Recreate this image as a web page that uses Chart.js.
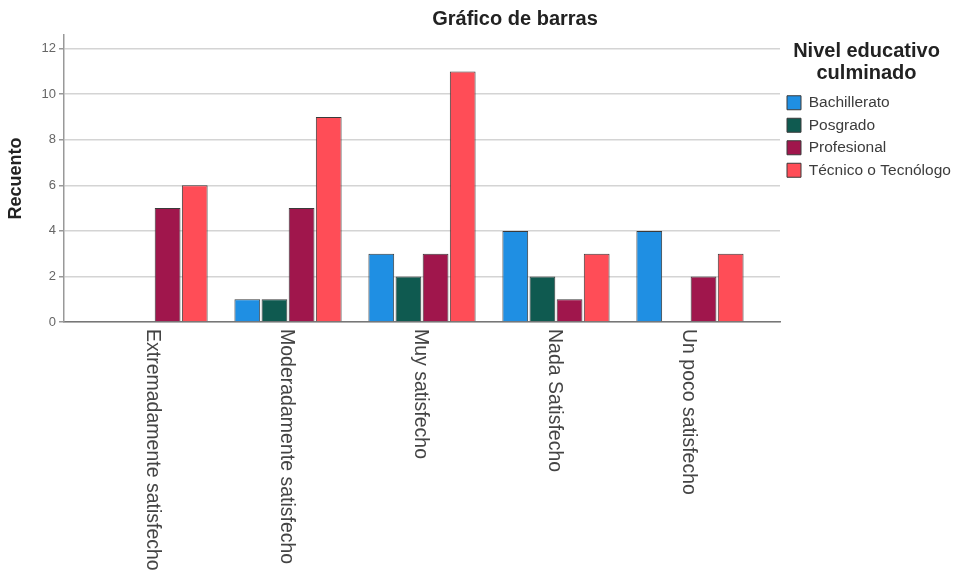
<!DOCTYPE html>
<html lang="es">
<head>
<meta charset="utf-8">
<title>Gráfico de barras</title>
<script src="https://cdn.jsdelivr.net/npm/chart.js@4/dist/chart.umd.min.js"></script>
<style>
    html, body { margin: 0; padding: 0; background: #fff; }
    #wrap { width: 953px; height: 571px; }
</style>
</head>
<body>
<div id="wrap"><canvas id="barChart"></canvas></div>
<script>
// Satisfaction counts by education level
const categories = [
    'Extremadamente satisfecho',
    'Moderadamente satisfecho',
    'Muy satisfecho',
    'Nada Satisfecho',
    'Un poco satisfecho'
];
const bachillerato = [0, 1, 3, 4, 4];
const posgrado     = [0, 1, 2, 2, 0];
const profesional  = [5, 5, 3, 1, 2];
const tecnico      = [6, 9, 11, 3, 3];
const yTicks = [0, 2, 4, 6, 8, 10, 12];

const seriesNames  = ['Bachillerato', 'Posgrado', 'Profesional', 'Técnico o Tecnólogo'];
const seriesValues = [bachillerato, posgrado, profesional, tecnico];
const seriesColors = ['#1f8fe3', '#0f5a50', '#a0164c', '#ff4d57'];

const FONT = "'Liberation Sans', Arial, sans-serif";

// x values are category indexes on a linear scale so the groups
// can sit a bit inside the axis ends like in SPSS
function toPoints(values) {
    return values.map((v, i) => ({ x: i, y: v }));
}

/**
 * Draws chart title and the rotated category labels (top to bottom)
 */
const textPlugin = {
    id: 'spssText',
    afterDraw(chart) {
        const ctx = chart.ctx;
        const xScale = chart.scales.x;
        const area = chart.chartArea;

        ctx.save();
        ctx.fillStyle = '#222';
        ctx.font = `bold 20px ${FONT}`;
        ctx.textAlign = 'center';
        ctx.textBaseline = 'middle';
        ctx.fillText('Gráfico de barras', 515, 19);

        ctx.fillStyle = '#444';
        ctx.font = `19.5px ${FONT}`;
        ctx.textAlign = 'left';
        categories.forEach((label, i) => {
            const x = xScale.getPixelForValue(i);
            ctx.save();
            ctx.translate(x - 2, area.bottom + 7);
            ctx.rotate(Math.PI / 2);
            ctx.fillText(label, 0, 0);
            ctx.restore();
        });
        ctx.restore();
    }
};

new Chart(document.getElementById('barChart'), {
    type: 'bar',
    data: {
        datasets: seriesNames.map((name, i) => ({
            label: name,
            data: toPoints(seriesValues[i]),
            backgroundColor: seriesColors[i],
            borderColor: '#3a3a3a',
            borderWidth: 1,
            categoryPercentage: 0.81,
            barPercentage: 0.95
        }))
    },
    options: {
        responsive: true,
        maintainAspectRatio: false,
        animation: false,
        layout: {
            padding: { top: 35, right: 0, bottom: 0, left: 0 }
        },
        plugins: {
            title: { display: false },
            tooltip: { enabled: false },
            legend: {
                position: 'right',
                align: 'start',
                maxWidth: 173,
                title: {
                    display: true,
                    text: ['Nivel educativo', 'culminado'],
                    color: '#222',
                    font: { family: FONT, size: 20, weight: 'bold', lineHeight: 1.1 },
                    padding: { top: 6, bottom: 25 }
                },
                labels: {
                    boxWidth: 14,
                    boxHeight: 14,
                    padding: 7,
                    color: '#3c3c3c',
                    font: { family: FONT, size: 15.5 }
                }
            }
        },
        scales: {
            x: {
                type: 'linear',
                offset: false,
                min: -0.672,
                max: 4.672,
                ticks: { display: false, stepSize: 1, includeBounds: false },
                grid: { display: false },
                border: { color: '#777', width: 1.5 },
                afterFit(scale) { scale.height = 249; }
            },
            y: {
                min: 0,
                max: 12.6,
                afterBuildTicks(scale) {
                    scale.ticks = yTicks.map(v => ({ value: v }));
                },
                ticks: {
                    color: '#666',
                    padding: 3,
                    font: { family: FONT, size: 13 }
                },
                grid: {
                    color: '#d4d4d4',
                    lineWidth: 1.5,
                    tickLength: 5,
                    tickColor: '#999'
                },
                border: { color: '#999', width: 1.5 },
                title: {
                    display: true,
                    text: 'Recuento',
                    color: '#222',
                    font: { family: FONT, size: 18, weight: 'bold' },
                    padding: { top: 5, bottom: 0 }
                },
                afterFit(scale) { scale.width = 64; }
            }
        }
    },
    plugins: [textPlugin]
});
</script>
</body>
</html>
